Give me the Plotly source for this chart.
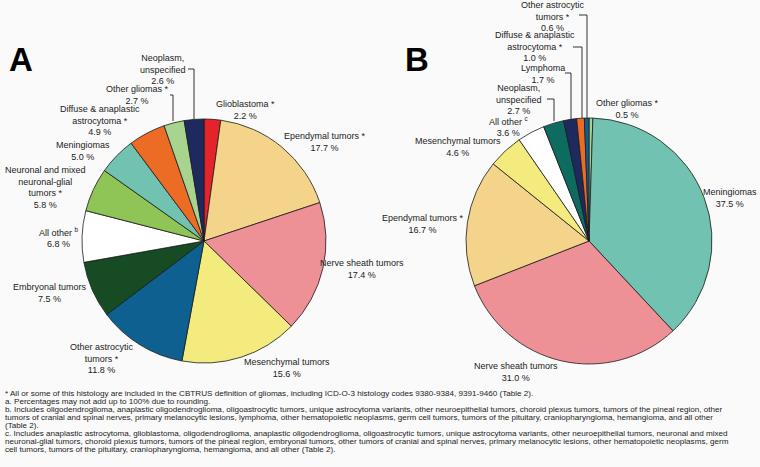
import plotly.graph_objects as go

W, H = 760, 467

# ---------------- data ----------------
labels_a = ["Glioblastoma *", "Ependymal tumors *", "Nerve sheath tumors", "Mesenchymal tumors",
            "Other astrocytic tumors *", "Embryonal tumors", "All other b",
            "Neuronal and mixed neuronal-glial tumors *", "Meningiomas",
            "Diffuse & anaplastic astrocytoma *", "Other gliomas *", "Neoplasm, unspecified"]
values_a = [2.2, 17.7, 17.4, 15.6, 11.8, 7.5, 6.8, 5.8, 5.0, 4.9, 2.7, 2.6]
colors_a = ["#e4232b", "#f4d48b", "#ee9196", "#f3eb7d", "#0d6090", "#164b24", "#ffffff",
            "#8fc557", "#72c2b2", "#ec6b25", "#a8d48f", "#1e2a5e"]

labels_b = ["Other gliomas *", "Meningiomas", "Nerve sheath tumors", "Ependymal tumors *",
            "Mesenchymal tumors", "All other c", "Neoplasm, unspecified", "Lymphoma",
            "Diffuse & anaplastic astrocytoma *", "Other astrocytic tumors *"]
values_b = [0.5, 37.5, 31.0, 16.7, 4.6, 3.6, 2.7, 1.7, 1.0, 0.6]
colors_b = ["#a8d48f", "#72c2b2", "#ee9196", "#f4d48b", "#f3eb7d", "#ffffff", "#0e6b5f",
            "#1e2a5e", "#ec6b25", "#0d6090"]

# display text for the labels (name part, value appended)
disp_a = ["Glioblastoma *", "Ependymal tumors *", "Nerve sheath tumors", "Mesenchymal tumors",
          "Other astrocytic<br>tumors *", "Embryonal tumors", "All other <sup>b</sup>",
          "Neuronal and mixed<br>neuronal-glial<br>tumors *", "Meningiomas",
          "Diffuse & anaplastic<br>astrocytoma *", "Other gliomas *", "Neoplasm,<br>unspecified"]
disp_b = ["Other gliomas *", "Meningiomas", "Nerve sheath tumors", "Ependymal tumors *",
          "Mesenchymal tumors", "All other <sup>c</sup>", "Neoplasm,<br>unspecified", "Lymphoma",
          "Diffuse & anaplastic<br>astrocytoma *", "Other astrocytic<br>tumors *"]

footnotes = [
    "* All or some of this histology are included in the CBTRUS definition of gliomas, including ICD-O-3 histology codes 9380-9384, 9391-9460 (Table 2).",
    "a. Percentages may not add up to 100% due to rounding.",
    "b. Includes oligodendroglioma, anaplastic oligodendroglioma, oligoastrocytic tumors, unique astrocytoma variants, other neuroepithelial tumors, choroid plexus tumors, tumors of the pineal region, other",
    "tumors of cranial and spinal nerves, primary melanocytic lesions, lymphoma, other hematopoietic neoplasms, germ cell tumors, tumors of the pituitary, craniopharyngioma, hemangioma, and all other",
    "(Table 2).",
    "c. Includes anaplastic astrocytoma, glioblastoma, oligodendroglioma, anaplastic oligodendroglioma, oligoastrocytic tumors, unique astrocytoma variants, other neuroepithelial tumors, neuronal and mixed",
    "neuronal-glial tumors, choroid plexus tumors, tumors of the pineal region, embryonal tumors, other tumors of cranial and spinal nerves, primary melanocytic lesions, other hematopoietic neoplasms, germ",
    "cell tumors, tumors of the pituitary, craniopharyngioma, hemangioma, and all other (Table 2).",
]

# ---------------- layout helpers (pixel -> paper) ----------------
def px(x):
    return x / W

def py(y):
    return 1 - y / H

FONT = "Liberation Sans, Arial, sans-serif"

# label centres in pixels (layout)
pos_a = [(245, 110), (325, 142), (362, 269), (287, 368), (102, 358), (50, 293), (59, 238),
         (45, 187), (83, 151), (100, 121), (137, 95), (163, 69)]
pos_b = [(627, 109), (734, 198), (516, 372), (423, 224), (458, 147), (508, 126), (519, 99),
         (543, 74), (535, 47), (553, 16)]

leaders = [
    [(188, 69), (194, 69), (194, 119)],
    [(170, 95), (173, 95), (173, 121)],
    [(579, 15), (587, 15), (587, 118)],
    [(573, 47), (582, 47), (582, 118)],
    [(565, 73), (571, 73), (571, 119)],
    [(547, 99), (554, 99), (554, 121)],
]

fig = go.Figure()

def add_pie(values, colors, names, cx, cy, r):
    fig.add_trace(go.Pie(
        values=values, labels=names, sort=False, direction="clockwise", rotation=0,
        marker=dict(colors=colors, line=dict(color="#1a1a1a", width=0.8)),
        textinfo="none", hoverinfo="label+value", showlegend=False,
        domain=dict(x=[px(cx - r), px(cx + r)], y=[py(cy + r), py(cy - r)]),
    ))

add_pie(values_a, colors_a, labels_a, 204, 241, 122)
add_pie(values_b, colors_b, labels_b, 589, 241, 123)

annotations = []
for i, (name, v, (x, y)) in enumerate(list(zip(disp_a, values_a, pos_a)) + list(zip(disp_b, values_b, pos_b))):
    anchor = "center"
    if name == "Meningiomas" and i >= len(disp_a):
        anchor, x = "right", 759
    annotations.append(dict(
        x=px(x), y=py(y), xref="paper", yref="paper", xanchor=anchor, yanchor="middle",
        text=f"{name}<br>{v:.1f} %", showarrow=False, align="center",
        font=dict(family=FONT, size=9, color="#222222"),
    ))

annotations.append(dict(x=px(7), y=py(60), xref="paper", yref="paper", xanchor="left",
                        yanchor="middle", text="<b>A</b>", showarrow=False,
                        font=dict(family=FONT, size=33, color="#000000")))
annotations.append(dict(x=px(403), y=py(59), xref="paper", yref="paper", xanchor="left",
                        yanchor="middle", text="<b>B</b>", showarrow=False,
                        font=dict(family=FONT, size=33, color="#000000")))

for i, line in enumerate(footnotes):
    annotations.append(dict(
        x=px(3), y=py(393 + i * 8), xref="paper", yref="paper", xanchor="left",
        yanchor="middle", text=line, showarrow=False, align="left",
        font=dict(family=FONT, size=8.1, color="#222222"),
    ))

shapes = []
for pts in leaders:
    path = "M " + " L ".join(f"{px(x)},{py(y)}" for x, y in pts)
    shapes.append(dict(type="path", xref="paper", yref="paper", path=path,
                       line=dict(color="#333333", width=1)))

fig.update_layout(
    width=W, height=H, margin=dict(l=0, r=0, t=0, b=0),
    paper_bgcolor="#fafafa", plot_bgcolor="#fafafa",
    annotations=annotations, shapes=shapes,
)

fig.write_html("out.html", config={"displayModeBar": False},
               post_script="document.body.style.margin='0';document.body.style.background='#fafafa';")
